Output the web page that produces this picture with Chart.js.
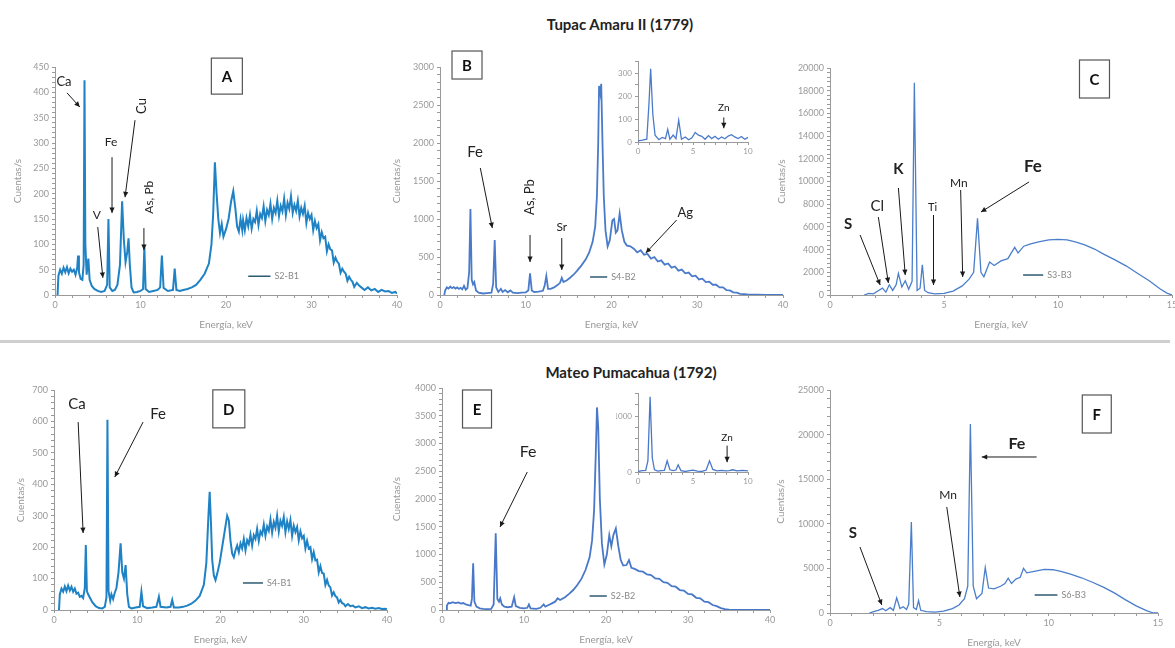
<!DOCTYPE html>
<html>
<head>
<meta charset="utf-8">
<script src="https://cdn.jsdelivr.net/npm/chart.js@4.4.1/dist/chart.umd.min.js"></script>
<style>
body { margin: 0; background: #fff; width: 1175px; height: 648px; position: relative; overflow: hidden; font-family: Lato, sans-serif; }
canvas { position: absolute; }
.titulo { position: absolute; font-weight: bold; font-size: 15px; color: #222; transform: translateX(-50%); white-space: nowrap; }
.sep { position: absolute; left: 0; top: 340px; width: 1170px; height: 3px; background: #cfcfcf; }
</style>
</head>
<body>
<div class="titulo" style="left:620px; top:15px">Tupac Amaru II (1779)</div>
<div class="sep"></div>
<div class="titulo" style="left:631px; top:363px">Mateo Pumacahua (1792)</div>
<canvas id="chart-a"></canvas>
<canvas id="chart-b"></canvas>
<canvas id="chart-b-ins"></canvas>
<canvas id="chart-c"></canvas>
<canvas id="chart-d"></canvas>
<canvas id="chart-e"></canvas>
<canvas id="chart-e-ins"></canvas>
<canvas id="chart-f"></canvas>
<script>
// Datos: [energia keV, cuentas/s]
const specA = [
    [0.3, 0], [0.4, 38], [0.6, 50], [0.8, 42], [1.0, 54], [1.2, 45], [1.4, 55], [1.6, 43], [1.8, 52], [2.0, 46],
    [2.2, 50], [2.4, 40], [2.6, 55], [2.7, 78], [2.8, 45], [3.0, 32], [3.2, 30], [3.35, 60], [3.45, 424], [3.55, 100],
    [3.7, 40], [3.9, 72], [4.05, 30], [4.3, 18], [4.6, 12], [5.0, 8], [5.4, 6], [5.8, 8], [6.1, 20], [6.25, 150],
    [6.4, 15], [6.7, 8], [7.0, 10], [7.3, 20], [7.6, 60], [7.85, 185], [8.05, 110], [8.25, 65], [8.45, 85], [8.6, 112],
    [8.75, 60], [8.95, 15], [9.2, 5], [9.6, 6], [10.0, 8], [10.3, 12], [10.45, 95], [10.6, 12], [11.0, 6], [11.5, 8],
    [12.0, 10], [12.3, 15], [12.5, 78], [12.7, 14], [13.2, 8], [13.8, 10], [14.0, 52], [14.2, 10], [14.6, 8], [15.0, 10],
    [15.5, 12], [16.0, 15], [16.5, 20], [17.0, 30], [17.5, 42], [18.0, 62], [18.3, 100], [18.5, 160], [18.7, 262], [18.9, 200],
    [19.1, 150], [19.3, 122], [19.5, 140], [19.7, 115], [20.0, 130], [20.3, 150], [20.6, 185], [20.85, 205], [21.1, 170], [21.3, 135],
    [21.5, 125], [21.7, 150], [21.9, 128], [22.0, 148], [22.2, 128], [22.4, 152], [22.6, 136], [22.8, 158], [23.0, 131], [23.2, 150],
    [23.4, 144], [23.6, 166], [23.8, 138], [24.0, 160], [24.2, 152], [24.4, 175], [24.6, 146], [24.8, 168], [25.0, 158], [25.2, 180],
    [25.4, 150], [25.6, 172], [25.8, 162], [26.0, 186], [26.2, 156], [26.4, 176], [26.6, 165], [26.8, 190], [27.0, 158], [27.2, 182],
    [27.4, 170], [27.6, 195], [27.8, 162], [28.0, 178], [28.2, 166], [28.4, 186], [28.6, 155], [28.8, 172], [29.0, 160], [29.2, 176],
    [29.4, 142], [29.6, 162], [29.8, 150], [30.0, 158], [30.2, 128], [30.4, 146], [30.6, 132], [30.8, 140], [31.0, 108], [31.2, 124],
    [31.4, 112], [31.6, 115], [31.8, 86], [32.0, 100], [32.2, 90], [32.4, 88], [32.6, 64], [32.8, 74], [33.0, 66], [33.2, 62],
    [33.4, 44], [33.6, 52], [33.8, 46], [34.0, 42], [34.2, 28], [34.4, 36], [34.6, 30], [34.8, 26], [35.0, 16], [35.3, 24],
    [35.6, 18], [35.9, 14], [36.2, 10], [36.6, 15], [37.0, 9], [37.4, 12], [37.8, 6], [38.2, 10], [38.6, 7], [39.0, 8],
    [39.4, 4], [39.8, 6], [40, 3]
];

const specB = [
    [0.5, 0], [0.6, 60], [0.8, 100], [1.0, 85], [1.2, 110], [1.4, 90], [1.6, 105], [1.8, 85], [2.0, 100], [2.2, 80],
    [2.4, 95], [2.6, 75], [2.8, 120], [3.0, 70], [3.2, 90], [3.4, 300], [3.55, 1130], [3.7, 200], [3.85, 140], [4.0, 170],
    [4.2, 60], [4.5, 30], [5.0, 20], [5.5, 25], [6.0, 30], [6.2, 150], [6.38, 723], [6.55, 100], [6.8, 40], [7.1, 80],
    [7.3, 40], [7.6, 65], [7.9, 35], [8.2, 60], [8.5, 30], [9.0, 25], [9.5, 30], [10.0, 35], [10.3, 60], [10.5, 285],
    [10.7, 60], [11.0, 40], [11.5, 45], [12.0, 55], [12.2, 120], [12.4, 250], [12.6, 80], [12.9, 80], [13.3, 100], [13.7, 130],
    [14.0, 160], [14.2, 225], [14.4, 170], [14.8, 195], [15.2, 230], [15.6, 270], [16.0, 320], [16.5, 390], [17.0, 470], [17.4, 560],
    [17.8, 700], [18.1, 900], [18.3, 1300], [18.45, 2000], [18.55, 2750], [18.7, 2650], [18.8, 2780], [18.95, 2000], [19.1, 1300], [19.3, 850],
    [19.55, 640], [19.8, 720], [20.1, 980], [20.3, 1000], [20.5, 820], [20.7, 850], [20.95, 1070], [21.2, 850], [21.5, 700], [21.8, 650],
    [22.2, 640], [22.6, 610], [23.0, 560], [23.4, 590], [23.8, 530], [24.2, 540], [24.6, 480], [25.0, 500], [25.4, 440], [25.8, 455],
    [26.2, 400], [26.6, 415], [27.0, 360], [27.4, 375], [27.8, 320], [28.2, 335], [28.6, 285], [29.0, 295], [29.4, 245], [29.8, 255],
    [30.2, 205], [30.6, 215], [31.0, 170], [31.4, 175], [31.8, 135], [32.2, 135], [32.6, 100], [33.0, 100], [33.4, 65], [33.8, 60],
    [34.2, 35], [34.6, 30], [35.0, 15], [35.5, 10], [36, 5], [37, 3], [38, 2], [39, 1], [40, 0]
];

const specC = [
    [1.5, 0], [1.7, 150], [1.9, 100], [2.1, 350], [2.3, 600], [2.45, 250], [2.6, 900], [2.75, 400], [2.9, 900], [3.0, 1900],
    [3.15, 700], [3.3, 1250], [3.45, 500], [3.6, 1200], [3.7, 18700], [3.82, 400], [3.95, 600], [4.05, 2650], [4.15, 400], [4.3, 200],
    [4.6, 100], [5.0, 150], [5.4, 350], [5.8, 800], [6.1, 1400], [6.3, 2000], [6.47, 6750], [6.62, 2000], [6.75, 1600], [7.0, 2900],
    [7.2, 2600], [7.5, 3000], [7.8, 3200], [8.1, 4200], [8.25, 3700], [8.5, 4300], [8.8, 4500], [9.2, 4700], [9.6, 4850], [10.0, 4900],
    [10.4, 4850], [10.8, 4650], [11.2, 4400], [11.6, 4050], [12.0, 3600], [12.5, 3100], [13.0, 2550], [13.5, 1900], [14.0, 1250], [14.5, 500],
    [14.8, 150], [15, 0]
];

const specD = [
    [0.6, 0], [0.7, 50], [0.9, 68], [1.1, 58], [1.3, 75], [1.5, 60], [1.7, 78], [1.9, 62], [2.1, 74], [2.3, 58],
    [2.5, 68], [2.7, 52], [2.9, 55], [3.1, 42], [3.3, 45], [3.5, 38], [3.7, 70], [3.82, 207], [3.95, 60], [4.1, 50],
    [4.3, 40], [4.6, 25], [5.0, 12], [5.4, 6], [5.8, 5], [6.1, 10], [6.3, 40], [6.42, 605], [6.55, 60], [6.75, 30],
    [6.9, 50], [7.1, 35], [7.3, 55], [7.5, 70], [7.75, 120], [8.0, 212], [8.2, 120], [8.4, 100], [8.6, 143], [8.8, 50],
    [9.0, 10], [9.3, 5], [9.8, 8], [10.3, 10], [10.5, 58], [10.7, 12], [11.2, 6], [11.8, 8], [12.3, 10], [12.6, 42],
    [12.8, 10], [13.5, 8], [14.0, 10], [14.2, 32], [14.4, 8], [15.0, 8], [15.5, 10], [16.0, 14], [16.5, 20], [17.0, 30],
    [17.5, 45], [18.0, 80], [18.3, 150], [18.55, 300], [18.7, 376], [18.85, 280], [19.0, 160], [19.2, 110], [19.4, 95], [19.6, 115],
    [19.9, 150], [20.2, 200], [20.5, 250], [20.8, 300], [21.0, 285], [21.2, 220], [21.4, 180], [21.6, 168], [21.8, 190], [22.0, 205],
    [22.2, 184], [22.4, 212], [22.6, 196], [22.8, 226], [23.0, 190], [23.2, 222], [23.4, 210], [23.6, 240], [23.8, 205], [24.0, 238],
    [24.2, 226], [24.4, 258], [24.6, 220], [24.8, 250], [25.0, 240], [25.2, 272], [25.4, 236], [25.6, 266], [25.8, 252], [26.0, 288],
    [26.2, 246], [26.4, 280], [26.6, 262], [26.8, 300], [27.0, 250], [27.2, 284], [27.4, 268], [27.6, 296], [27.8, 248], [28.0, 282],
    [28.2, 258], [28.4, 286], [28.6, 236], [28.8, 268], [29.0, 248], [29.2, 264], [29.4, 222], [29.6, 250], [29.8, 228], [30.0, 236],
    [30.2, 196], [30.4, 220], [30.6, 196], [30.8, 200], [31.0, 162], [31.2, 184], [31.4, 158], [31.6, 160], [31.8, 120], [32.0, 140],
    [32.2, 118], [32.4, 116], [32.6, 80], [32.8, 96], [33.0, 78], [33.2, 72], [33.4, 46], [33.6, 56], [33.8, 44], [34.0, 40],
    [34.2, 24], [34.4, 32], [34.6, 22], [34.8, 20], [35.0, 12], [35.3, 19], [35.6, 12], [35.9, 14], [36.2, 8], [36.6, 12],
    [37.0, 6], [37.4, 9], [37.8, 5], [38.2, 7], [38.6, 4], [39.0, 6], [39.4, 3], [39.8, 4], [40, 2]
];

const specE = [
    [0.5, 0], [0.6, 80], [0.8, 130], [1.0, 120], [1.3, 140], [1.6, 125], [2.0, 135], [2.3, 115], [2.6, 125], [2.9, 100],
    [3.2, 90], [3.5, 80], [3.65, 200], [3.8, 842], [3.95, 150], [4.2, 60], [4.6, 30], [5.0, 20], [5.5, 15], [6.0, 20],
    [6.3, 100], [6.55, 1383], [6.75, 200], [6.95, 150], [7.1, 210], [7.3, 100], [7.6, 60], [8.0, 50], [8.5, 60], [8.8, 230],
    [9.0, 70], [9.5, 40], [10.0, 30], [10.4, 40], [10.6, 100], [10.8, 30], [11.5, 20], [12.0, 40], [12.4, 100], [12.6, 60],
    [13.0, 90], [13.4, 120], [13.8, 150], [14.1, 210], [14.4, 180], [15.0, 230], [15.5, 290], [16.0, 360], [16.5, 450], [17.0, 560],
    [17.5, 720], [18.0, 950], [18.3, 1250], [18.55, 1800], [18.75, 2800], [18.9, 3650], [19.05, 3300], [19.25, 2000], [19.5, 1200], [19.8, 820],
    [20.1, 1000], [20.4, 1350], [20.65, 1150], [20.9, 1350], [21.2, 1470], [21.5, 1150], [21.8, 900], [22.1, 800], [22.5, 810], [22.8, 900],
    [23.1, 760], [23.5, 740], [24.0, 700], [24.5, 690], [25.0, 640], [25.5, 630], [26.0, 570], [26.5, 560], [27.0, 500], [27.5, 490],
    [28.0, 430], [28.5, 420], [29.0, 360], [29.5, 350], [30.0, 290], [30.5, 280], [31.0, 220], [31.5, 210], [32.0, 150], [32.5, 140],
    [33.0, 90], [33.5, 70], [34.0, 35], [34.5, 15], [35, 5], [36, 2], [38, 0], [40, 0]
];

const specF = [
    [1.8, 0], [2.0, 150], [2.2, 300], [2.4, 500], [2.55, 250], [2.75, 600], [2.9, 300], [3.05, 1700], [3.2, 500], [3.35, 700],
    [3.5, 400], [3.6, 1000], [3.72, 10200], [3.82, 600], [3.95, 400], [4.05, 1400], [4.15, 300], [4.4, 150], [4.8, 100], [5.2, 200],
    [5.6, 500], [5.9, 900], [6.15, 1600], [6.3, 3000], [6.42, 21200], [6.55, 3000], [6.7, 1600], [6.95, 2200], [7.1, 5100], [7.25, 2800],
    [7.5, 2700], [7.8, 3000], [8.0, 3300], [8.15, 3900], [8.3, 3300], [8.5, 3800], [8.7, 4000], [8.85, 5000], [9.0, 4500], [9.4, 4700],
    [9.8, 4900], [10.2, 4850], [10.6, 4650], [11.0, 4350], [11.5, 3950], [12.0, 3450], [12.5, 2900], [13.0, 2250], [13.5, 1500], [14.0, 800],
    [14.5, 250], [14.8, 0], [15, 0]
];

// Recuadros internos (0 - 10 keV)
const insetB = [
    [0, 5], [0.4, 8], [0.8, 12], [1.0, 170], [1.15, 320], [1.35, 120], [1.55, 30], [1.9, 10], [2.2, 20], [2.5, 15],
    [2.7, 55], [2.9, 12], [3.2, 30], [3.45, 15], [3.7, 95], [3.95, 12], [4.3, 22], [4.6, 10], [4.9, 18], [5.2, 42],
    [5.5, 30], [5.8, 25], [6.1, 12], [6.4, 28], [6.7, 15], [7.0, 25], [7.3, 12], [7.6, 22], [7.9, 14], [8.2, 26],
    [8.5, 32], [8.8, 22], [9.1, 15], [9.4, 24], [9.7, 12], [10, 20]
];

const insetE = [
    [0, 10], [0.4, 25], [0.7, 30], [0.9, 200], [1.1, 1345], [1.3, 250], [1.5, 40], [1.8, 15], [2.1, 25], [2.4, 30],
    [2.65, 200], [2.9, 40], [3.2, 25], [3.45, 35], [3.65, 130], [3.9, 25], [4.3, 10], [4.7, 25], [5.0, 35], [5.4, 15],
    [5.8, 10], [6.2, 35], [6.5, 200], [6.8, 45], [7.2, 20], [7.6, 30], [8.0, 20], [8.3, 25], [8.6, 40], [9.0, 20],
    [9.5, 30], [10, 20]
];

const muestras = { a: 'S2-B1', b: 'S4-B2', c: 'S3-B3', d: 'S4-B1', e: 'S2-B2', f: 'S6-B3' };

// Anotaciones (en coordenadas de datos)
const notas = {
    'chart-a': {
        box: { text: 'A', at: [20.1, 432], w: 31, h: 36 },
        legend: { text: muestras.a, from: [22.6, 37], to: [25.2, 37] },
        labels: [
            { text: 'Ca', at: [1.05, 420], size: 13 },
            { text: 'V', at: [4.9, 158], size: 12 },
            { text: 'Fe', at: [6.55, 302], size: 12 },
            { text: 'Cu', at: [10.2, 373], size: 13, rot: true },
            { text: 'As, Pb', at: [11.0, 193], size: 12, rot: true },
        ],
        arrows: [
            { from: [1.4, 399], to: [2.9, 371] },
            { from: [5.0, 134], to: [5.6, 34] },
            { from: [6.67, 272], to: [6.67, 162] },
            { from: [9.36, 345], to: [8.19, 193] },
            { from: [10.4, 132], to: [10.4, 89] },
        ]
    },
    'chart-b': {
        box: { text: 'B', at: [3.15, 3026], w: 30, h: 28 },
        legend: { text: muestras.b, from: [17.5, 237], to: [19.5, 237] },
        labels: [
            { text: 'Fe', at: [4.1, 1882], size: 15 },
            { text: 'As, Pb', at: [10.5, 1289], size: 13, rot: true },
            { text: 'Sr', at: [14.2, 890], size: 12 },
            { text: 'Ag', at: [28.6, 1079], size: 13 },
        ],
        arrows: [
            { from: [4.7, 1671], to: [6.1, 882] },
            { from: [10.5, 789], to: [10.5, 434] },
            { from: [14.2, 750], to: [14.2, 330] },
            { from: [27.6, 987], to: [24.0, 553] },
        ]
    },
    'chart-b-ins': {
        labels: [{ text: 'Zn', at: [7.8, 149], size: 10 }],
        arrows: [{ from: [7.8, 107], to: [7.8, 60] }]
    },
    'chart-c': {
        box: { text: 'C', at: [11.6, 19030], w: 30, h: 38 },
        legend: { text: muestras.c, from: [8.47, 1760], to: [9.35, 1760] },
        labels: [
            { text: 'S', at: [0.79, 6255], size: 15, bold: true },
            { text: 'Cl', at: [2.07, 7840], size: 15 },
            { text: 'K', at: [3.0, 11100], size: 15, bold: true },
            { text: 'Ti', at: [4.5, 7750], size: 11 },
            { text: 'Mn', at: [5.65, 9870], size: 12 },
            { text: 'Fe', at: [8.9, 11280], size: 17, bold: true },
        ],
        arrows: [
            { from: [1.32, 5286], to: [2.2, 880] },
            { from: [2.12, 6870], to: [2.56, 1057] },
            { from: [3.0, 9430], to: [3.3, 1760] },
            { from: [4.54, 7050], to: [4.54, 880] },
            { from: [5.73, 9250], to: [5.82, 1590] },
            { from: [8.73, 9960], to: [6.62, 7310] },
        ]
    },
    'chart-d': {
        box: { text: 'D', at: [21.0, 640], w: 32, h: 38 },
        legend: { text: muestras.d, from: [22.7, 86], to: [25.1, 86] },
        labels: [
            { text: 'Ca', at: [2.76, 655], size: 15 },
            { text: 'Fe', at: [12.5, 624], size: 15 },
        ],
        arrows: [
            { from: [2.9, 598], to: [3.5, 245] },
            { from: [10.7, 598], to: [7.3, 423] },
        ]
    },
    'chart-e': {
        box: { text: 'E', at: [4.27, 3622], w: 29, h: 38 },
        legend: { text: muestras.e, from: [18.0, 252], to: [20.1, 252] },
        labels: [{ text: 'Fe', at: [10.5, 2847], size: 16 }],
        arrows: [{ from: [10.4, 2486], to: [7.07, 1495] }]
    },
    'chart-e-ins': {
        labels: [{ text: 'Zn', at: [8.1, 612], size: 10 }],
        arrows: [{ from: [8.1, 472], to: [8.1, 175] }]
    },
    'chart-f': {
        box: { text: 'F', at: [12.2, 22310], w: 29, h: 38 },
        legend: { text: muestras.f, from: [9.36, 2018], to: [10.4, 2018] },
        labels: [
            { text: 'S', at: [1.05, 8970], size: 15, bold: true },
            { text: 'Mn', at: [5.4, 13230], size: 12 },
            { text: 'Fe', at: [8.55, 18950], size: 16, bold: true },
        ],
        arrows: [
            { from: [1.37, 7400], to: [2.37, 900] },
            { from: [5.34, 11880], to: [5.94, 1790] },
            { from: [9.45, 17490], to: [6.94, 17490] },
        ]
    }
};

const notasPlugin = {
    id: 'notas',
    afterDatasetsDraw(chart) {
        const n = notas[chart.canvas.id];
        if (!n) return;
        const ctx = chart.ctx;
        const xs = chart.scales.x, ys = chart.scales.y;
        const px = (p) => [xs.getPixelForValue(p[0]), ys.getPixelForValue(p[1])];
        ctx.save();
        // flechas
        (n.arrows || []).forEach((a) => {
            const [x1, y1] = px(a.from), [x2, y2] = px(a.to);
            ctx.strokeStyle = '#1a1a1a';
            ctx.lineWidth = 1;
            ctx.beginPath();
            ctx.moveTo(x1, y1);
            ctx.lineTo(x2, y2);
            ctx.stroke();
            const ang = Math.atan2(y2 - y1, x2 - x1);
            ctx.fillStyle = '#1a1a1a';
            ctx.beginPath();
            ctx.moveTo(x2, y2);
            ctx.lineTo(x2 - 6 * Math.cos(ang - 0.45), y2 - 6 * Math.sin(ang - 0.45));
            ctx.lineTo(x2 - 6 * Math.cos(ang + 0.45), y2 - 6 * Math.sin(ang + 0.45));
            ctx.closePath();
            ctx.fill();
        });
        // etiquetas de elementos
        ctx.textAlign = 'center';
        ctx.textBaseline = 'middle';
        (n.labels || []).forEach((l) => {
            const [x, y] = px(l.at);
            ctx.fillStyle = '#222';
            ctx.font = (l.bold ? 'bold ' : '') + l.size + 'px Lato, sans-serif';
            ctx.save();
            ctx.translate(x, y);
            if (l.rot) ctx.rotate(-Math.PI / 2);
            ctx.fillText(l.text, 0, 0);
            ctx.restore();
        });
        // recuadro con la letra del panel
        if (n.box) {
            const [x, y] = px(n.box.at);
            ctx.strokeStyle = '#555';
            ctx.lineWidth = 1.2;
            ctx.strokeRect(x - n.box.w / 2, y - n.box.h / 2, n.box.w, n.box.h);
            ctx.fillStyle = '#111';
            ctx.font = 'bold 15px Lato, sans-serif';
            ctx.fillText(n.box.text, x, y + 1);
        }
        // leyenda
        if (n.legend) {
            const [x1, y1] = px(n.legend.from), [x2] = px(n.legend.to);
            ctx.strokeStyle = '#2c5a72';
            ctx.lineWidth = 1.5;
            ctx.beginPath();
            ctx.moveTo(x1, y1);
            ctx.lineTo(x2, y1);
            ctx.stroke();
            ctx.fillStyle = '#888';
            ctx.font = '9px Lato, sans-serif';
            ctx.textAlign = 'left';
            ctx.fillText(n.legend.text, x2 + 4, y1);
        }
        ctx.restore();
    }
};

function panel(id, rect, yw, spec, color, lw, ejes, small) {
    const canvas = document.getElementById(id);
    const padT = small ? 6 : 30, padR = small ? 8 : 16, xh = small ? 14 : 40;
    canvas.width = rect[2] - rect[0] + yw + padR;
    canvas.height = rect[3] - rect[1] + padT + xh;
    canvas.style.left = (rect[0] - yw) + 'px';
    canvas.style.top = (rect[1] - padT) + 'px';
    const fs = small ? 8 : 9;
    return new Chart(canvas.getContext('2d'), {
        type: 'line',
        data: {
            datasets: [{
                data: spec,
                borderColor: color,
                borderWidth: lw,
                pointRadius: 0,
                tension: 0,
                fill: false,
            }]
        },
        plugins: [notasPlugin],
        options: {
            responsive: false,
            animation: false,
            devicePixelRatio: 1,
            layout: { padding: { top: padT, right: padR, left: 0, bottom: 0 } },
            plugins: { legend: { display: false }, tooltip: { enabled: false } },
            scales: {
                x: {
                    type: 'linear', min: 0, max: ejes.xMax,
                    border: { color: '#9a9a9a' },
                    grid: { drawOnChartArea: false, tickLength: 3, color: '#9a9a9a' },
                    ticks: {
                        stepSize: ejes.xStep, autoSkip: false, maxRotation: 0, padding: 2,
                        color: '#999', font: { size: fs, family: 'Lato' },
                        callback: (v) => (v % ejes.xMajor === 0 ? v : ''),
                    },
                    title: { display: !small, text: 'Energía, keV', color: '#999', font: { size: 10, family: 'Lato' } },
                    afterFit: (s) => { s.height = xh; },
                },
                y: {
                    min: 0, max: ejes.yMax,
                    border: { color: '#9a9a9a' },
                    grid: { drawOnChartArea: false, tickLength: 3, color: '#9a9a9a' },
                    ticks: {
                        stepSize: ejes.yStep, autoSkip: false, padding: 3,
                        color: '#999', font: { size: fs, family: 'Lato' },
                        callback: (v) => (v % ejes.yMajor === 0 ? v : ''),
                    },
                    title: { display: !small, text: 'Cuentas/s', color: '#999', font: { size: 10, family: 'Lato' } },
                    afterFit: (s) => { s.width = yw; },
                }
            }
        }
    });
}

const ejes40 = (yMax, yStep, yMajor) => ({ xMax: 40, xStep: 2, xMajor: 10, yMax, yStep, yMajor });
const ejes15 = (yMax, yStep, yMajor) => ({ xMax: 15, xStep: 1, xMajor: 5, yMax, yStep, yMajor });

panel('chart-a', [55, 67, 397, 295], 47, specA, '#1f82c4', 2, ejes40(450, 10, 50));
panel('chart-b', [440, 67, 783, 295], 53, specB, '#4a7bca', 1.8, ejes40(3000, 100, 500));
panel('chart-c', [830, 68, 1172, 295], 58, specC, '#4a7ecb', 1.3, ejes15(20000, 400, 2000));
panel('chart-d', [54, 390, 387, 610], 43, specD, '#1f82c4', 2, ejes40(700, 20, 100));
panel('chart-e', [442, 388, 770, 610], 55, specE, '#4a78c8', 1.8, ejes40(4000, 100, 500));
panel('chart-f', [830, 390, 1158, 613], 59, specF, '#4a7ecb', 1.3, ejes15(25000, 1000, 5000));
panel('chart-b-ins', [638, 60, 748, 142], 22, insetB, '#4a7bca', 1.3, { xMax: 10, xStep: 1, xMajor: 5, yMax: 350, yStep: 50, yMajor: 100 }, true);
panel('chart-e-ins', [638, 392, 748, 472], 22, insetE, '#4a78c8', 1.3, { xMax: 10, xStep: 1, xMajor: 5, yMax: 1400, yStep: 200, yMajor: 1000 }, true);
</script>
</body>
</html>
